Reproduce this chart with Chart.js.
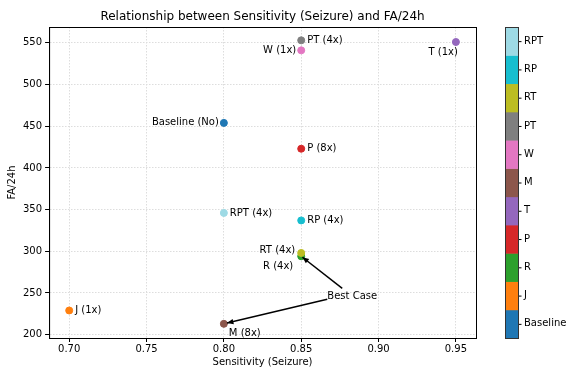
<!DOCTYPE html>
<html>
<head>
<meta charset="utf-8">
<script src="https://cdn.jsdelivr.net/npm/chart.js@4.4.0/dist/chart.umd.min.js"></script>
<style>
  html, body { margin: 0; padding: 0; background: #fff; }
  #wrap { width: 566px; height: 370px; }
</style>
</head>
<body>
<div id="wrap"><canvas id="chart"></canvas></div>
<script>
// Data
const names = ['Baseline (No)', 'J (1x)', 'R (4x)', 'P (8x)', 'T (1x)', 'M (8x)', 'W (1x)', 'PT (4x)', 'RT (4x)', 'RP (4x)', 'RPT (4x)'];
const sensitivity = [0.80, 0.70, 0.85, 0.85, 0.95, 0.80, 0.85, 0.85, 0.85, 0.85, 0.80];
const fa24h = [454, 229, 294, 423, 551, 213, 541, 553, 298, 337, 346];
const barLabels = ['Baseline', 'J', 'R', 'P', 'T', 'M', 'W', 'PT', 'RT', 'RP', 'RPT'];
const xTicks = [0.70, 0.75, 0.80, 0.85, 0.90, 0.95];
const yTicks = [200, 250, 300, 350, 400, 450, 500, 550];

const colors = ['#1f77b4', '#ff7f0e', '#2ca02c', '#d62728', '#9467bd', '#8c564b',
                '#e377c2', '#7f7f7f', '#bcbd22', '#17becf', '#9edae5'];

// label offsets in pixels [dx, dy, align]
const labelOffsets = [
  [-5, 0, 'right'], [6, 0, 'left'], [-8, 10, 'right'], [6, 0, 'left'],
  [2, 10, 'right'], [5, 10, 'left'], [-5, 0, 'right'], [6, 0, 'left'],
  [-6, -3, 'right'], [6, 0, 'left'], [6, 0, 'left']
];

const FONT = 'DejaVu Sans';
const TITLE = 'Relationship between Sensitivity (Seizure) and FA/24h';

const pointLabels = {
  id: 'pointLabels',
  afterDatasetsDraw(chart) {
    const ctx = chart.ctx;
    const meta = chart.getDatasetMeta(0);
    ctx.save();
    ctx.font = '10px ' + FONT;
    ctx.fillStyle = '#000';
    ctx.textBaseline = 'middle';
    meta.data.forEach((pt, i) => {
      const o = labelOffsets[i];
      ctx.textAlign = o[2];
      ctx.fillText(names[i], pt.x + o[0], pt.y + o[1]);
    });

    // Best Case annotation
    const xs = chart.scales.x, ys = chart.scales.y;
    const tx = xs.getPixelForValue(0.883), ty = ys.getPixelForValue(246);
    ctx.textAlign = 'center';
    ctx.fillText('Best Case', tx, ty);
    const targets = [[meta.data[2], tx - 10, ty - 8], [meta.data[5], tx - 25, ty + 3]];
    ctx.strokeStyle = '#000';
    ctx.lineWidth = 1.5;
    targets.forEach(([p, sx, sy]) => {
      const ex = p.x + (sx - p.x) * 0.03, ey = p.y + (sy - p.y) * 0.03;
      const ang = Math.atan2(ey - sy, ex - sx);
      ctx.beginPath();
      ctx.moveTo(sx, sy);
      ctx.lineTo(ex, ey);
      ctx.stroke();
      ctx.beginPath();
      ctx.moveTo(ex, ey);
      ctx.lineTo(ex - 7 * Math.cos(ang - 0.4), ey - 7 * Math.sin(ang - 0.4));
      ctx.lineTo(ex - 7 * Math.cos(ang + 0.4), ey - 7 * Math.sin(ang + 0.4));
      ctx.closePath();
      ctx.fillStyle = '#000';
      ctx.fill();
    });

    // frame
    const a = chart.chartArea;
    ctx.lineWidth = 1;
    ctx.strokeStyle = '#000';
    ctx.strokeRect(a.left + 0.5, a.top + 0.5, a.right - a.left, a.bottom - a.top);

    // title centred over the plot area
    ctx.font = '12px ' + FONT;
    ctx.textAlign = 'center';
    ctx.fillText(TITLE, (a.left + a.right) / 2, 17);
    ctx.restore();
  }
};

const colorBar = {
  id: 'colorBar',
  afterDraw(chart) {
    const ctx = chart.ctx;
    const a = chart.chartArea;
    const left = 505, width = 13;
    const h = (a.bottom - a.top) / barLabels.length;
    ctx.save();
    barLabels.forEach((lab, i) => {
      const y = a.bottom - (i + 1) * h;
      ctx.fillStyle = colors[i];
      ctx.fillRect(left, y, width, h + 0.5);
      ctx.strokeStyle = '#000';
      ctx.lineWidth = 1;
      ctx.beginPath();
      ctx.moveTo(left + width, y + h / 2 + 0.5);
      ctx.lineTo(left + width + 3.5, y + h / 2 + 0.5);
      ctx.stroke();
      ctx.fillStyle = '#000';
      ctx.font = '10px ' + FONT;
      ctx.textAlign = 'left';
      ctx.textBaseline = 'middle';
      ctx.fillText(lab, left + width + 6, y + h / 2);
    });
    ctx.strokeStyle = '#333';
    ctx.strokeRect(left + 0.5, a.top + 0.5, width, a.bottom - a.top);
    ctx.restore();
  }
};

new Chart(document.getElementById('chart'), {
  type: 'scatter',
  data: {
    datasets: [{
      data: sensitivity.map((s, i) => ({ x: s, y: fa24h[i] })),
      pointBackgroundColor: colors,
      pointBorderColor: colors,
      pointRadius: 3.5,
      pointHoverRadius: 3.5
    }]
  },
  options: {
    responsive: true,
    maintainAspectRatio: false,
    animation: false,
    layout: { padding: { left: 0, right: 90, top: 27, bottom: 2 } },
    plugins: {
      legend: { display: false },
      tooltip: { enabled: false },
      title: { display: false }
    },
    scales: {
      x: {
        min: 0.687, max: 0.963,
        afterBuildTicks: s => { s.ticks = xTicks.map(v => ({ value: v })); },
        ticks: {
          color: '#000', font: { family: FONT, size: 10 }, padding: 1,
          callback: v => v.toFixed(2)
        },
        grid: { color: '#ddd', tickColor: '#000', tickLength: 4 },
        border: { color: '#000', dash: [1.5, 1.5] },
        title: { display: true, text: 'Sensitivity (Seizure)', color: '#000', font: { family: FONT, size: 10 }, padding: { top: 0, bottom: 0 } }
      },
      y: {
        min: 196, max: 569,
        afterBuildTicks: s => { s.ticks = yTicks.map(v => ({ value: v })); },
        ticks: { color: '#000', font: { family: FONT, size: 10 }, padding: 3 },
        grid: { color: '#ddd', tickColor: '#000', tickLength: 4 },
        border: { color: '#000', dash: [1.5, 1.5] },
        title: { display: true, text: 'FA/24h', color: '#000', font: { family: FONT, size: 10 }, padding: { top: 6, bottom: 2 } }
      }
    }
  },
  plugins: [pointLabels, colorBar]
});
</script>
</body>
</html>
